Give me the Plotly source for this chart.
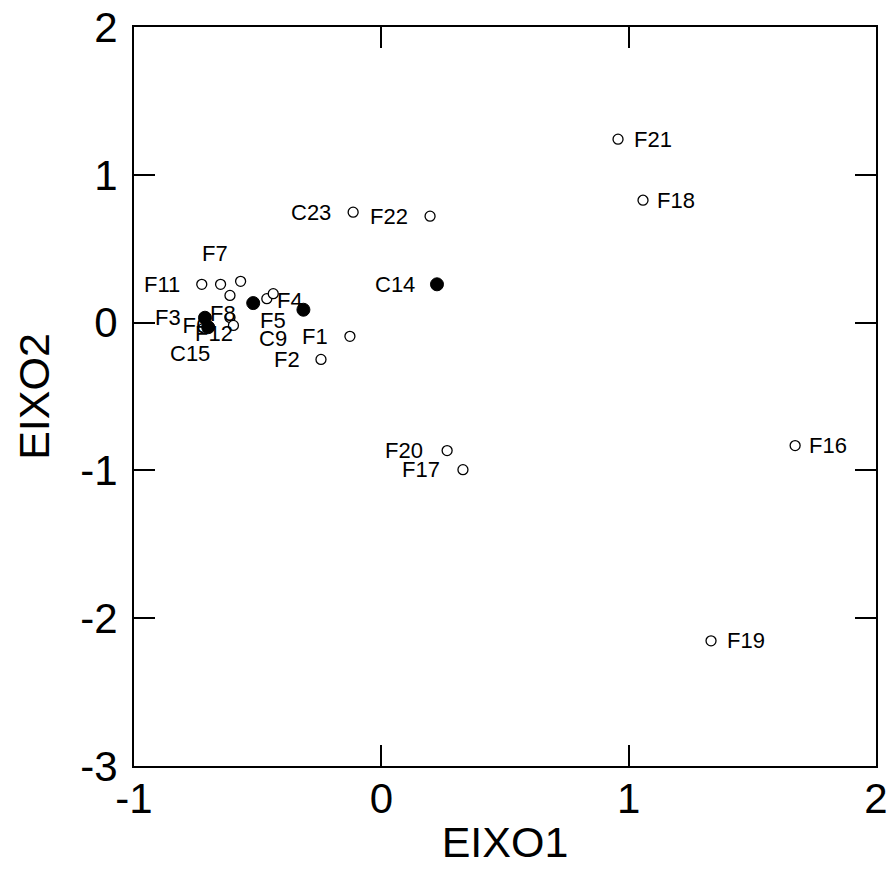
import plotly.graph_objects as go

# ---- data ----
names = ["F1", "F2", "F3", "F4", "F5", "F6", "F7", "F8", "C9", "F10", "F11", "F12",
         "F13", "C14", "C15", "F16", "F17", "F18", "F19", "F20", "F21", "F22", "C23"]
eixo1 = [-0.127, -0.244, -0.713, -0.315, -0.518, -0.700, -0.650, -0.612, -0.463, -0.437,
         -0.726, -0.598, -0.569, 0.225, -0.612, 1.673, 0.330, 1.058, 1.333, 0.266,
         0.957, 0.197, -0.114]
eixo2 = [-0.093, -0.249, 0.033, 0.087, 0.132, -0.031, 0.259, 0.035, 0.162, 0.196,
         0.259, -0.019, 0.279, 0.259, 0.184, -0.832, -0.995, 0.828, -2.153, -0.866,
         1.241, 0.720, 0.747]
filled = [False, False, True, True, True, True, False, False, False, False,
          False, False, False, True, False, False, False, False, False, False,
          False, False, False]

x_ticks = [-1, 0, 1, 2]
y_ticks = [-3, -2, -1, 0, 1, 2]

# label placement (anchor side, x offset px, y offset px downward); None = hidden under others
label_place = {
    "F1": ("right", -20, 0), "F2": ("right", -19, 0), "F3": ("right", -22, 0),
    "F4": ("right", 2, -9), "F5": ("left", 5, 17), "F6": "under",
    "F7": ("left", -21, -31), "F8": ("left", -22, -4), "C9": ("left", -10, 40),
    "F10": None, "F11": ("right", -20, 0), "F12": ("left", -40, 8),
    "F13": None, "C14": ("right", -20, 0), "C15": ("left", -62, 58),
    "F16": ("left", 12, 0), "F17": ("right", -21, 0), "F18": ("left", 12, 0),
    "F19": ("left", 14, 0), "F20": ("right", -22, 0), "F21": ("left", 14, 0),
    "F22": ("right", -20, 0), "C23": ("right", -20, 0),
}

FONT = "Liberation Sans, Arial, sans-serif"

fig = go.Figure()

# labels that sit underneath the markers
under = [i for i, n in enumerate(names) if label_place[n] == "under"]
fig.add_trace(go.Scatter(
    x=[eixo1[i] for i in under], y=[eixo2[i] for i in under],
    text=[names[i] for i in under], mode="text", textposition="middle left",
    textfont=dict(family=FONT, size=22, color="black"),
    hoverinfo="skip", showlegend=False))

op = [i for i in range(len(names)) if not filled[i]]
fl = [i for i in range(len(names)) if filled[i]]
fig.add_trace(go.Scatter(
    x=[eixo1[i] for i in op], y=[eixo2[i] for i in op], mode="markers",
    marker=dict(size=10, color="white", line=dict(color="black", width=1.3)),
    text=[names[i] for i in op], showlegend=False))
fig.add_trace(go.Scatter(
    x=[eixo1[i] for i in fl], y=[eixo2[i] for i in fl], mode="markers",
    marker=dict(size=13, color="black", line=dict(color="black", width=1)),
    text=[names[i] for i in fl], showlegend=False))

for i, n in enumerate(names):
    p = label_place[n]
    if p is None or p == "under":
        continue
    side, dx, dy = p
    fig.add_annotation(
        x=eixo1[i], y=eixo2[i], xref="x", yref="y", text=n, showarrow=False,
        xanchor=side, yanchor="middle", xshift=dx, yshift=-dy,
        font=dict(family=FONT, size=22, color="black"))

axis_common = dict(
    showline=True, linecolor="black", linewidth=2, mirror="ticks",
    ticks="inside", ticklen=21, tickwidth=2, tickcolor="black",
    showgrid=False, zeroline=False, automargin=False,
    tickfont=dict(family=FONT, size=42, color="black"),
)
fig.update_xaxes(range=[-1, 2], tickvals=x_ticks, ticktext=[str(v) for v in x_ticks],
                 title=dict(text="EIXO1", font=dict(family=FONT, size=43, color="black"), standoff=5),
                 ticklabelstandoff=-5, **axis_common)
fig.update_yaxes(range=[-3, 2], tickvals=y_ticks, ticktext=[str(v) for v in y_ticks],
                 title=dict(text="EIXO2", font=dict(family=FONT, size=43, color="black"), standoff=17),
                 ticklabelstandoff=6, **axis_common)

fig.update_layout(
    width=893, height=878, margin=dict(l=134, r=17, t=27, b=112),
    paper_bgcolor="white", plot_bgcolor="white", showlegend=False,
)

fig.write_html("out.html")
